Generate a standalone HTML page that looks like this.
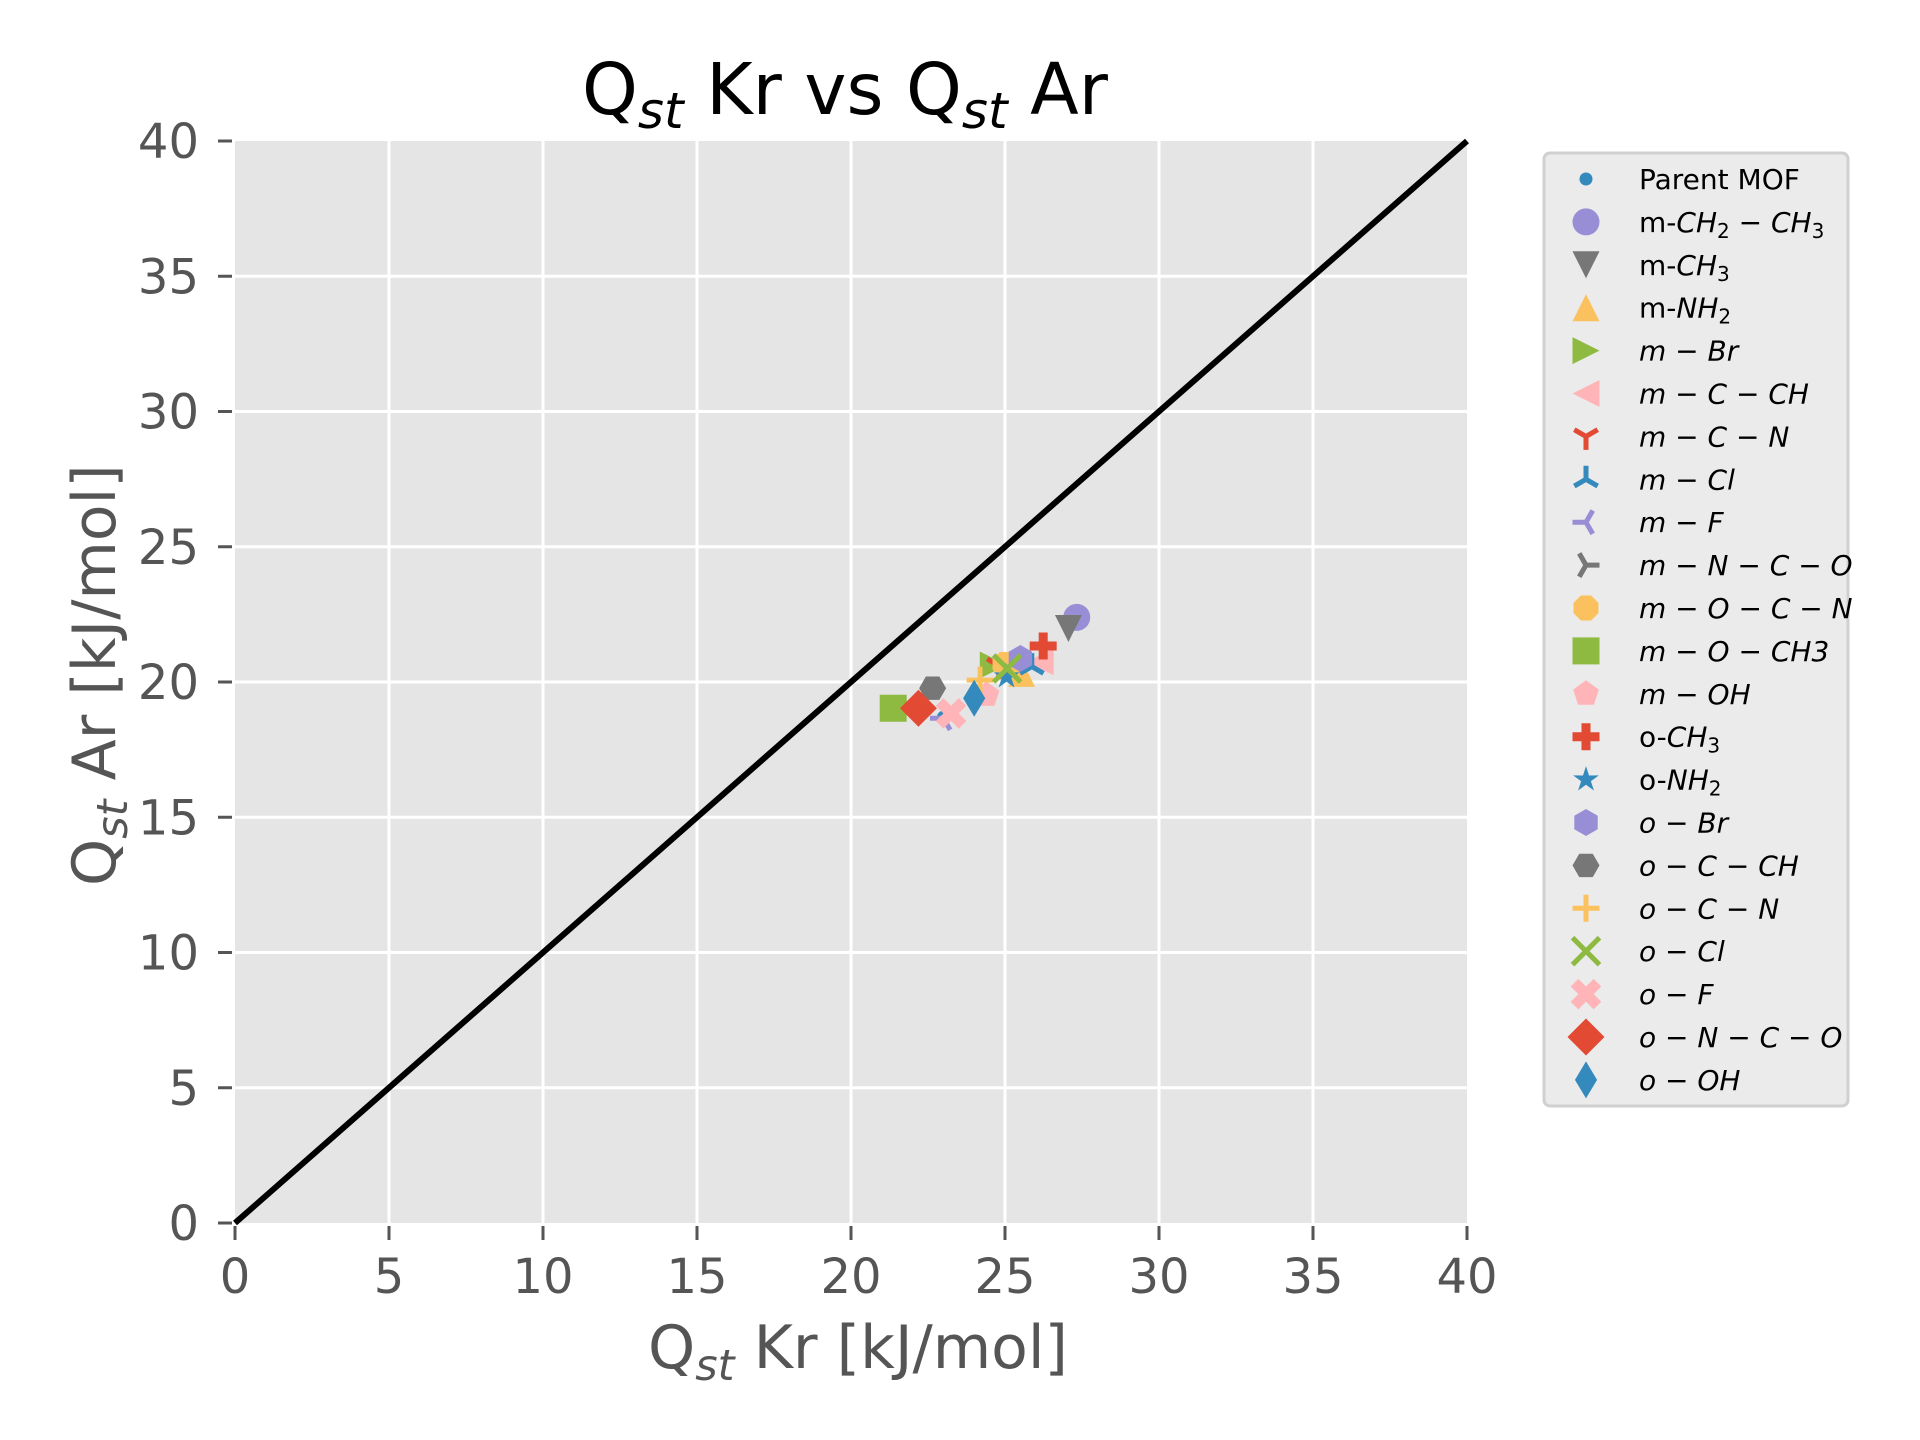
<!DOCTYPE html>
<html><head><meta charset="utf-8"><style>
html,body{margin:0;padding:0;background:#fff;}
svg{display:block;font-family:"DejaVu Sans","Liberation Sans",sans-serif;}
</style></head><body>
<svg id="chart" width="1920" height="1440" viewBox="0 0 1920 1440" xmlns="http://www.w3.org/2000/svg">
<rect x="235" y="141" width="1232" height="1082" fill="#E5E5E5"/>
<g id="grid"></g>
<g id="ticks"></g>
<line id="diag" stroke="#000" stroke-width="6"/>
<g id="points"></g>
<text x="582" y="114" font-size="71" fill="#000">Q<tspan font-style="italic" font-size="50" dy="14">st</tspan><tspan dy="-14"> Kr vs Q</tspan><tspan font-style="italic" font-size="50" dy="14">st</tspan><tspan dy="-14"> Ar</tspan></text>
<text x="648" y="1368" font-size="60" fill="#555">Q<tspan font-style="italic" font-size="43" dy="12">st</tspan><tspan dy="-12"> Kr [kJ/mol]</tspan></text>
<text transform="translate(115,886) rotate(-90)" font-size="60" fill="#555">Q<tspan font-style="italic" font-size="43" dy="12">st</tspan><tspan dy="-12"> Ar [kJ/mol]</tspan></text>
<g>
<rect x="1544" y="153" width="304" height="953" rx="6" fill="#EBEBEB" stroke="#D0D0D0" stroke-width="3"/>
<g id="legend"></g>
</g>
</svg>
<script>
const names = ["parent","m-ch2ch3","m-ch3","m-nh2","m-br","m-c-ch","m-c-n","m-cl","m-f","m-n-c-o","m-o-c-n","m-o-ch3","m-oh","o-ch3","o-nh2","o-br","o-c-ch","o-c-n","o-cl","o-f","o-n-c-o","o-oh"];
const xValues = [23.0,27.33,27.06,25.54,24.62,26.14,24.8,25.87,23.0,25.0,25.0,21.37,24.4,26.24,25.05,25.5,22.65,24.19,25.07,23.25,22.19,24.0];
const yValues = [18.7,22.39,21.98,20.32,20.63,20.75,20.6,20.57,18.66,20.6,20.65,19.03,19.52,21.33,20.2,20.87,19.77,20.07,20.5,18.84,19.03,19.4];
const markers = [".","o","v","^",">","<","1","2","3","4","8","s","p","P","*","h","H","+","x","X","D","d"];
const colors = ["#348ABD","#988ED5","#777777","#FBC15E","#8EBA42","#FFB5B8","#E24A33","#348ABD","#988ED5","#777777","#FBC15E","#8EBA42","#FFB5B8","#E24A33","#348ABD","#988ED5","#777777","#FBC15E","#8EBA42","#FFB5B8","#E24A33","#348ABD"];
const labels = ["Parent MOF","m-<i>CH</i>_2 − <i>CH</i>_3","m-<i>CH</i>_3","m-<i>NH</i>_2","<i>m − Br</i>","<i>m − C − CH</i>","<i>m − C − N</i>","<i>m − Cl</i>","<i>m − F</i>","<i>m − N − C − O</i>","<i>m − O − C − N</i>","<i>m − O − CH3</i>","<i>m − OH</i>","o-<i>CH</i>_3","o-<i>NH</i>_2","<i>o − Br</i>","<i>o − C − CH</i>","<i>o − C − N</i>","<i>o − Cl</i>","<i>o − F</i>","<i>o − N − C − O</i>","<i>o − OH</i>"];
const ticks = [0,5,10,15,20,25,30,35,40];
const tickLabels = ["0","5","10","15","20","25","30","35","40"];

const NS="http://www.w3.org/2000/svg";
const X0=235,X1=1467,Y0=1223,Y1=141,DMAX=40;
function sx(v){return X0+(X1-X0)*v/DMAX;}
function sy(v){return Y0-(Y0-Y1)*v/DMAX;}
function mk(tag,attrs,parent){const e=document.createElementNS(NS,tag);for(const k in attrs)e.setAttribute(k,attrs[k]);parent.appendChild(e);return e;}

const grid=document.getElementById('grid'),tk=document.getElementById('ticks');
ticks.forEach((t,i)=>{
  if(t>0&&t<40){
    const gv=mk('line',{x1:sx(t),x2:sx(t),y1:Y1,y2:Y0,stroke:'#fff','stroke-width':3},grid);
    
    
    const gh=mk('line',{x1:X0,x2:X1,y1:sy(t),y2:sy(t),stroke:'#fff','stroke-width':3},grid);
    
    
  }
  const a=mk('line',{x1:sx(t),x2:sx(t),y1:Y0+3,y2:Y0+17,stroke:'#555','stroke-width':3},tk);
  
  
  const b=mk('line',{x1:X0-17,x2:X0-3,y1:sy(t),y2:sy(t),stroke:'#555','stroke-width':3},tk);
  
  
  const lx=mk('text',{x:sx(t),y:1293,'font-size':48,fill:'#555','text-anchor':'middle'},tk);
  lx.textContent=tickLabels[i];
  
  
  const ly=mk('text',{x:199,y:sy(t)+17,'font-size':48,fill:'#555','text-anchor':'end'},tk);
  ly.textContent=tickLabels[i];
  
  
});
const d=document.getElementById('diag');
d.setAttribute('x1',sx(0));d.setAttribute('y1',sy(0));d.setAttribute('x2',sx(40));d.setAttribute('y2',sy(40));

function poly(n,r,rot){let p=[];for(let k=0;k<n;k++){const a=rot+2*Math.PI*k/n;p.push((r*Math.cos(a)).toFixed(2)+','+(r*Math.sin(a)).toFixed(2));}return p.join(' ');}
function drawMarker(g,m,cx,cy,c){
  const r=13.5;let e;
  const t=`translate(${cx},${cy})`;
  switch(m){
    case '.': e=mk('circle',{cx,cy,r:6.5,fill:c},g);break;
    case 'o': e=mk('circle',{cx,cy,r,fill:c},g);break;
    case 'v': e=mk('polygon',{points:`${-r},${-r} ${r},${-r} 0,${r}`,transform:t,fill:c},g);break;
    case '^': e=mk('polygon',{points:`${-r},${r} ${r},${r} 0,${-r}`,transform:t,fill:c},g);break;
    case '>': e=mk('polygon',{points:`${-r},${-r} ${-r},${r} ${r},0`,transform:t,fill:c},g);break;
    case '<': e=mk('polygon',{points:`${r},${-r} ${r},${r} ${-r},0`,transform:t,fill:c},g);break;
    case '1': case '2': case '3': case '4': {
      const rot={'1':90,'2':-90,'3':180,'4':0}[m]*Math.PI/180;
      let dd='';for(let k=0;k<3;k++){const a=rot+2*Math.PI*k/3;dd+=`M0,0L${(r*Math.cos(a)).toFixed(2)},${(r*Math.sin(a)).toFixed(2)}`;}
      e=mk('path',{d:dd,transform:t,stroke:c,'stroke-width':5,fill:'none'},g);break;}
    case '8': e=mk('polygon',{points:poly(8,r,Math.PI/8),transform:t,fill:c},g);break;
    case 's': e=mk('rect',{x:cx-r,y:cy-r,width:2*r,height:2*r,fill:c},g);break;
    case 'p': e=mk('polygon',{points:poly(5,r,-Math.PI/2),transform:t,fill:c},g);break;
    case 'h': e=mk('polygon',{points:poly(6,r,-Math.PI/2),transform:t,fill:c},g);break;
    case 'H': e=mk('polygon',{points:poly(6,r,0),transform:t,fill:c},g);break;
    case '*': {let p=[];for(let k=0;k<10;k++){const a=-Math.PI/2+Math.PI*k/5;const rr=k%2?r*0.38:r;p.push((rr*Math.cos(a)).toFixed(2)+','+(rr*Math.sin(a)).toFixed(2));}
      e=mk('polygon',{points:p.join(' '),transform:t,fill:c},g);break;}
    case 'P': {const w=r/3;e=mk('polygon',{points:`${-w},${-r} ${w},${-r} ${w},${-w} ${r},${-w} ${r},${w} ${w},${w} ${w},${r} ${-w},${r} ${-w},${w} ${-r},${w} ${-r},${-w} ${-w},${-w}`,transform:t,fill:c},g);break;}
    case 'X': {const w=r/3;e=mk('polygon',{points:`${-w},${-r} ${w},${-r} ${w},${-w} ${r},${-w} ${r},${w} ${w},${w} ${w},${r} ${-w},${r} ${-w},${w} ${-r},${w} ${-r},${-w} ${-w},${-w}`,transform:t+' rotate(45) scale(1.2)',fill:c},g);break;}
    case '+': e=mk('path',{d:`M${-r},0H${r}M0,${-r}V${r}`,transform:t,stroke:c,'stroke-width':5},g);break;
    case 'x': e=mk('path',{d:`M${-r},${-r}L${r},${r}M${-r},${r}L${r},${-r}`,transform:t,stroke:c,'stroke-width':5},g);break;
    case 'D': e=mk('polygon',{points:`0,${-r*1.37} ${r*1.37},0 0,${r*1.37} ${-r*1.37},0`,transform:t,fill:c},g);break;
    case 'd': e=mk('polygon',{points:`0,${-r*1.37} ${r*0.82},0 0,${r*1.37} ${-r*0.82},0`,transform:t,fill:c},g);break;
  }
  return e;
}
const pts=document.getElementById('points');
names.forEach((n,i)=>{
  const e=drawMarker(pts,markers[i],sx(xValues[i]),sy(yValues[i]),colors[i]);
  
  
});
const lg=document.getElementById('legend');
function labelMarkup(s){
  return s.replace(/<i>/g,'<tspan font-style="italic">').replace(/<\/i>/g,'</tspan>')
          .replace(/_(\d)/g,'<tspan font-size="20" baseline-shift="-6" font-style="normal">$1</tspan>');
}
names.forEach((n,i)=>{
  const cy=179+42.9*i;
  const e=drawMarker(lg,markers[i],1586,cy,colors[i]);
  
  
  const t=mk('text',{x:1639,y:cy+10,'font-size':28,fill:'#000'},lg);
  t.innerHTML=labelMarkup(labels[i]);
  
  
});
</script>
</body></html>
